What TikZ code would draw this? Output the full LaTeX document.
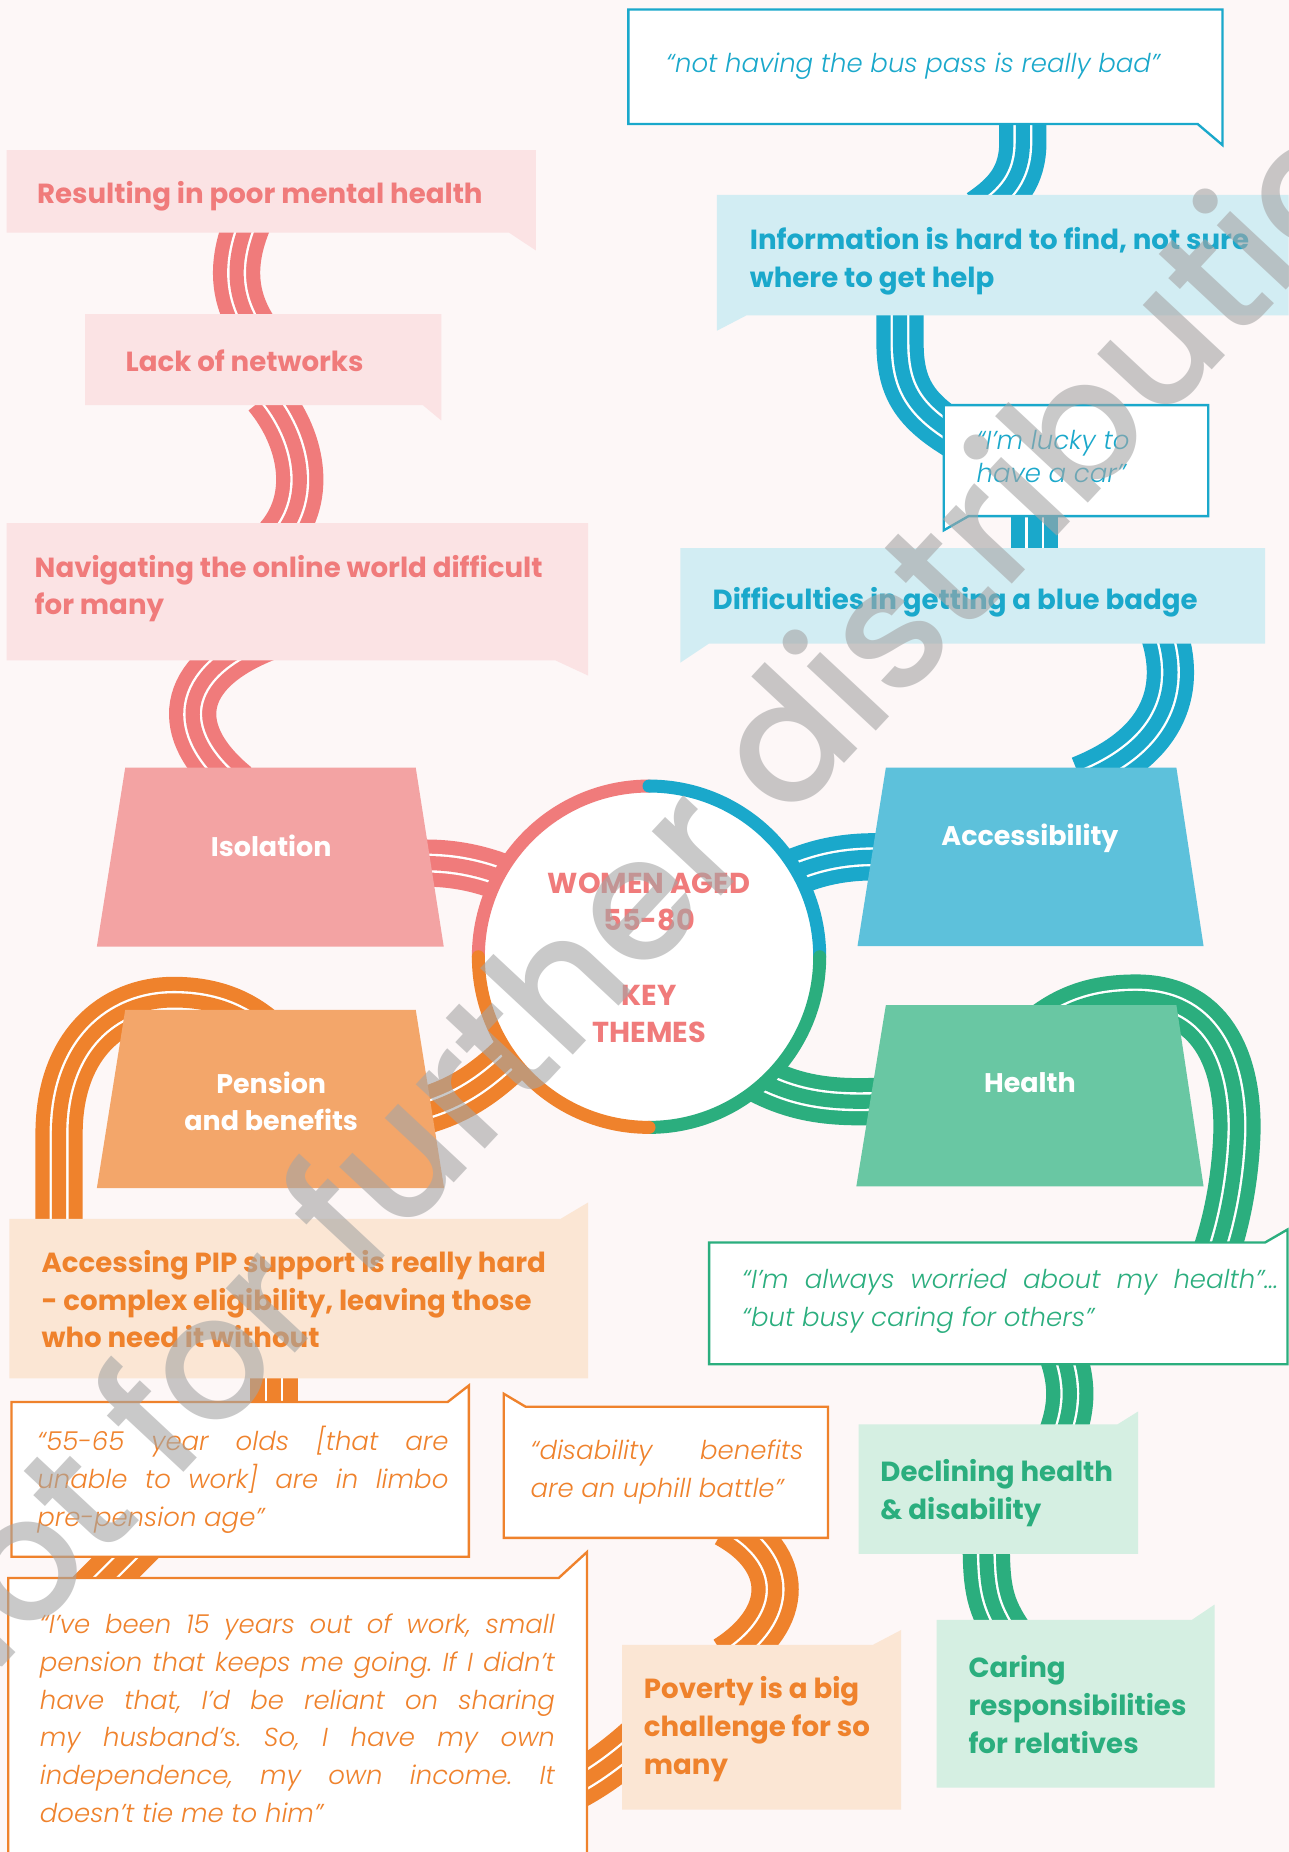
\documentclass[tikz,border=0pt]{standalone}
\usepackage{fontspec}
\setmainfont{Poppins}
\newfontfamily\qfont{Poppins Light Italic}
\newfontfamily\wmfont{Poppins Medium}
\definecolor{bg}{RGB}{253,247,247}
\definecolor{pinkD}{RGB}{240,123,123}
\definecolor{pinkL}{RGB}{251,227,228}
\definecolor{pinkT}{RGB}{243,163,163}
\definecolor{blueD}{RGB}{26,168,203}
\definecolor{blueL}{RGB}{210,237,243}
\definecolor{blueT}{RGB}{93,193,219}
\definecolor{oranD}{RGB}{239,130,44}
\definecolor{oranL}{RGB}{251,230,212}
\definecolor{oranT}{RGB}{243,166,106}
\definecolor{grenD}{RGB}{43,174,126}
\definecolor{grenL}{RGB}{213,239,226}
\definecolor{grenT}{RGB}{105,199,163}
\definecolor{wmgray}{RGB}{165,165,165}
\newcommand\lblfont{\bfseries\fontsize{11.7}{16}\selectfont}
\newcommand\trapfont{\bfseries\fontsize{11.4}{16}\selectfont}
\newcommand\ctrfont{\bfseries\fontsize{12.2}{15.5}\selectfont}
\newcommand\qtfont{\qfont\fontsize{11}{16}\selectfont\frenchspacing}
\newcommand\qtsfont{\qfont\fontsize{11}{14}\selectfont}
\tikzset{
  ribbon/.style={line width=20pt, draw=#1,
    postaction={draw=white, line width=8pt},
    postaction={draw=#1, line width=6pt}},
  ringarc/.style={draw=#1, line width=5.5pt, line cap=round},
  qbox/.style={fill=white, draw=#1, line width=1pt},
  lbl/.style={text=#1, font=\lblfont, anchor=north west, inner sep=0pt, align=left},
  qtxt/.style={text=#1, font=\qtfont, anchor=north west, inner sep=0pt, align=left},
  jtxt/.style={text=#1, font=\qtfont, anchor=north west, inner sep=0pt, align=justify},
  trap/.style={text=white, font=\trapfont, align=center, inner sep=0pt},
  ctr/.style={text=pinkD, font=\ctrfont, align=center, inner sep=0pt},
}
\begin{document}
\begin{tikzpicture}[x=0.5pt,y=-0.5pt]
\useasboundingbox (0,0) rectangle (1091,1568);
\fill[bg] (0,0) rectangle (1091,1568);

% ---------- connector end points ----------
\coordinate (p1a) at (211,185);  \coordinate (p1b) at (216,280);
\coordinate (p2a) at (226,335);  \coordinate (p2b) at (236,455);
\coordinate (p3a) at (225,540);  \coordinate (p3b) at (200,665);
\coordinate (p4a) at (330,733);  \coordinate (p4b) at (470,765);
\coordinate (b1a) at (866,95);   \coordinate (b1b) at (830,180);
\coordinate (b2a) at (762,255);  \coordinate (b2b) at (820,375);
\coordinate (b3a) at (876,425);  \coordinate (b3b) at (876,475);
\coordinate (b4a) at (985,535);  \coordinate (b4b) at (915,660);
\coordinate (b5a) at (770,727);  \coordinate (b5b) at (640,755);
\coordinate (g1a) at (770,931);  \coordinate (g1b) at (620,900);
\coordinate (g2a) at (880,872);  \coordinate (g2b) at (1028,1065);
\coordinate (g3a) at (899,1145); \coordinate (g3b) at (899,1215);
\coordinate (g4a) at (835,1305); \coordinate (g4b) at (855,1385);
\coordinate (o1a) at (340,945);  \coordinate (o1b) at (470,855);
\coordinate (o2a) at (50,1060);  \coordinate (o2b) at (225,875);
\coordinate (o3a) at (232,1160); \coordinate (o3b) at (232,1195);
\coordinate (o4a) at (125,1300); \coordinate (o4b) at (70,1355);
\coordinate (o5a) at (470,1520); \coordinate (o5b) at (560,1455);
\coordinate (o6a) at (615,1290); \coordinate (o6b) at (615,1405);

% ---------- ribbons ----------
\draw[ribbon=pinkD] (p1a) .. controls (196,220) and (196,250) .. (p1b);
\draw[ribbon=pinkD] (p2a) .. controls (255,370) and (266,420) .. (p2b);
\draw[ribbon=pinkD] (p3a) .. controls (150,570) and (145,620) .. (p3b);
\draw[ribbon=pinkD] (p4a) .. controls (380,726) and (420,735) .. (p4b);
\draw[ribbon=blueD] (b1a) -- (866,120) .. controls (866,150) and (852,165) .. (b1b);
\draw[ribbon=blueD] (b2a) -- (762,290) .. controls (762,330) and (775,350) .. (b2b);
\draw[ribbon=blueD] (b3a) -- (b3b);
\draw[ribbon=blueD] (b4a) .. controls (1000,580) and (990,630) .. (b4b);
\draw[ribbon=blueD] (b5a) .. controls (720,722) and (685,728) .. (b5b);
\draw[ribbon=grenD] (g1a) .. controls (710,935) and (670,935) .. (g1b);
\draw[ribbon=grenD] (g2a) .. controls (905,852) and (930,845) .. (962,845)
   .. controls (1030,845) and (1050,905) .. (1047,965)
   .. controls (1045,1005) and (1037,1040) .. (g2b);
\draw[ribbon=grenD] (g3a) .. controls (908,1170) and (908,1190) .. (g3b);
\draw[ribbon=grenD] (g4a) .. controls (835,1345) and (838,1360) .. (g4b);
\draw[ribbon=oranD] (o1a) .. controls (390,935) and (420,915) .. (o1b);
\draw[ribbon=oranD] (o2a) -- (50,960) .. controls (50,885) and (95,847) .. (147,847)
   .. controls (180,847) and (205,857) .. (o2b);
\draw[ribbon=oranD] (o3a) -- (o3b);
\draw[ribbon=oranD] (o4a) -- (o4b);
\draw[ribbon=oranD] (o5a) .. controls (500,1508) and (530,1485) .. (o5b);
\draw[ribbon=oranD] (o6a) .. controls (670,1320) and (670,1370) .. (o6b);

% ---------- central ring ----------
\coordinate (C) at (549.5,810);
\fill[white] (C) circle[radius=72.25pt];
\draw[ringarc=pinkD] ([shift={(90:72.25pt)}]C) arc[start angle=90, end angle=180, radius=72.25pt];
\draw[ringarc=blueD] ([shift={(90:72.25pt)}]C) arc[start angle=90, end angle=0, radius=72.25pt];
\draw[ringarc=grenD] ([shift={(0:72.25pt)}]C) arc[start angle=0, end angle=-90, radius=72.25pt];
\draw[ringarc=oranD] ([shift={(180:72.25pt)}]C) arc[start angle=180, end angle=270, radius=72.25pt];
\node[ctr] (women) at (549.6,763.5) {WOMEN AGED\\55-80};
\node[ctr] (key) at (549.6,858.5) {KEY\\THEMES};

% ---------- trapezoids ----------
\fill[pinkT] (106,650) -- (352,650) -- (375.7,801.5) -- (82,801.5) -- cycle;
\fill[blueT] (750,650) -- (996,650) -- (1019,801) -- (726,801) -- cycle;
\fill[oranT] (106,855) -- (352,855) -- (376,1006) -- (82,1006) -- cycle;
\fill[grenT] (750,851) -- (996,851) -- (1019,1004.5) -- (725,1004.5) -- cycle;
\node[trap] (iso) at (229.6,716) {Isolation};
\node[trap] (acc) at (872,709.7) {Accessibility};
\node[trap] (pen) at (229.6,932.5) {Pension\\and benefits};
\node[trap] (hea) at (872,917) {Health};

% ---------- pink boxes ----------
\fill[pinkL] (5.6,127) -- (453.6,127) -- (453.6,212) -- (431,197) -- (5.6,197) -- cycle;
\fill[pinkL] (72,266) -- (373.6,266) -- (373.6,356) -- (358,343) -- (72,343) -- cycle;
\fill[pinkL] (5.6,443) -- (498,443) -- (498,572) -- (470,559) -- (5.6,559) -- cycle;
\node[lbl=pinkD] (res) at (31,153.5) {Resulting in poor mental health};
\node[lbl=pinkD] (lack) at (106,295.5) {Lack of networks};
\node[lbl=pinkD] (nav) at (29,469.5) {Navigating the online world difficult\\for many};

% ---------- blue boxes ----------
\draw[qbox=blueD] (532,8) -- (1035,8) -- (1035,122.8) -- (1014,105) -- (532,105) -- cycle;
\fill[blueL] (607,165) -- (1091,165) -- (1091,267) -- (632,267) -- (607,280) -- cycle;
\draw[qbox=blueD] (799,343) -- (1023,343) -- (1023,437) -- (820,437) -- (799,449) -- cycle;
\fill[blueL] (576,464) -- (1071,464) -- (1071,545) -- (600,545) -- (576,561) -- cycle;
\node[qtxt=blueD] (bus) at (563.6,44.5) {“not having the bus pass is really bad”};
\node[lbl=blueD] (info) at (634.5,192) {Information is hard to find, not sure\\where to get help};
\node[qtxt=blueD, font=\qtsfont] (car) at (826.5,363.5) {“I’m lucky to\\have a car”};
\node[lbl=blueD] (badge) at (603,496.5) {Difficulties in getting a blue badge};

% ---------- orange boxes ----------
\fill[oranL] (8,1032) -- (474.5,1032) -- (498,1018) -- (498,1167) -- (8,1167) -- cycle;
\draw[qbox=oranD] (9.7,1187) -- (379,1187) -- (397,1173) -- (397,1318) -- (9.7,1318) -- cycle;
\draw[qbox=oranD] (426.5,1180) -- (445,1191) -- (701,1191) -- (701,1302) -- (426.5,1302) -- cycle;
\draw[qbox=oranD] (7,1336) -- (473,1336) -- (497,1314) -- (497,1585) -- (7,1585) -- cycle;
\fill[oranL] (526.7,1392.6) -- (739,1392.6) -- (763,1380) -- (763,1532) -- (526.7,1532) -- cycle;
\node[lbl=oranD] (pip) at (34.8,1058) {Accessing PIP support is really hard\\- complex eligibility, leaving those\\who need it without};
\node[jtxt=oranD, text width=174pt] (limbo) at (31.3,1207) {“55-65 year olds [that are\linebreak unable to work] are in limbo\linebreak pre-pension age”};
\node[jtxt=oranD, text width=115.5pt] (uphill) at (448.8,1219) {“disability benefits\linebreak are an uphill battle”};
\node[jtxt=oranD, text width=218pt] (fifteen) at (33.4,1366) {“I’ve been 15 years out of work, small\linebreak pension that keeps me going. If I didn’t\linebreak have that, I’d be reliant on sharing\linebreak my husband’s. So, I have my own\linebreak independence, my own income. It\linebreak doesn’t tie me to him”};
\node[lbl=oranD] (pov) at (544.8,1419) {Poverty is a big\\challenge for so\\many};

% ---------- green boxes ----------
\draw[qbox=grenD] (600.4,1052) -- (1071,1052) -- (1090,1041) -- (1090,1155) -- (600.4,1155) -- cycle;
\fill[grenL] (727,1206) -- (946,1206) -- (963.6,1195) -- (963.6,1315.6) -- (727,1315.6) -- cycle;
\fill[grenL] (793,1371.5) -- (1009,1371.5) -- (1028.3,1358.5) -- (1028.3,1513.5) -- (793,1513.5) -- cycle;
\node[jtxt=grenD, text width=227pt] (worried) at (628,1074) {“I’m always worried about my health”...\linebreak “but busy caring for others”};
\node[lbl=grenD] (decl) at (745,1235.5) {Declining health\\\& disability};
\node[lbl=grenD] (care) at (819.6,1401.5) {Caring\\responsibilities\\for relatives};

% ---------- watermark ----------
\node[anchor=base, rotate=47, text=wmgray, text opacity=0.6, inner sep=0pt,
      font=\wmfont\fontsize{72.5}{80}\selectfont] (wm) at (592.6,778.3) {Not for further distribution};
\end{tikzpicture}
\end{document}
